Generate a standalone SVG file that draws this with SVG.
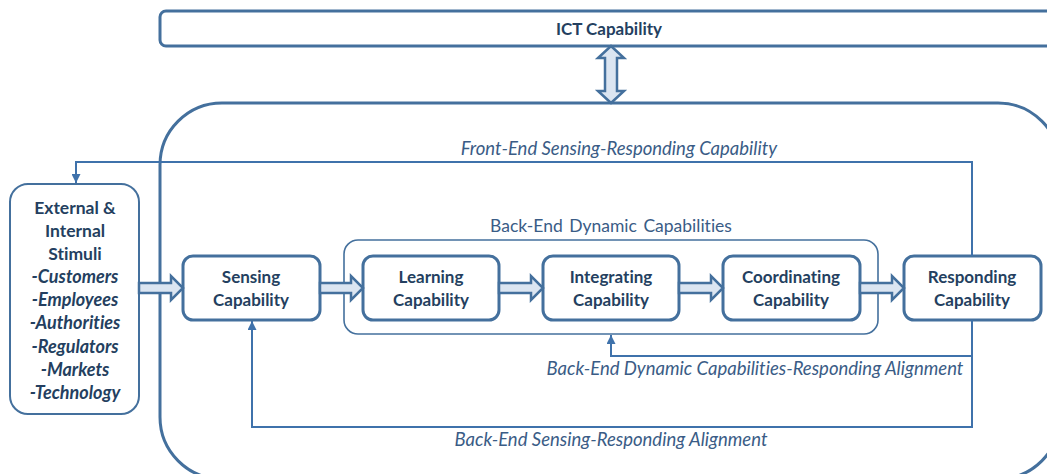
<svg xmlns="http://www.w3.org/2000/svg" width="1047" height="474" viewBox="0 0 1047 474">
<style>
text{font-variant-ligatures:none;font-feature-settings:"liga" 0}
.box{fill:#fff;stroke:#44709d;stroke-width:3}
.thin{fill:none;stroke:#44709d;stroke-width:1.6}
.line{fill:none;stroke:#3f72ab;stroke-width:2}
.fat{fill:#dbe5f1;stroke:#44709d;stroke-width:2.5;stroke-linejoin:miter}
.b{font-family:Lato,"Liberation Sans",sans-serif;font-weight:bold;font-size:17px;fill:#243f60;text-anchor:middle}
.s{font-size:17.5px}
.bi{font-family:Lato,"Liberation Sans",sans-serif;font-weight:bold;font-style:italic;font-size:18px;fill:#243f60;text-anchor:middle}
.lab{font-family:Lato,"Liberation Sans",sans-serif;font-style:italic;font-size:18.5px;fill:#3a5c86;text-anchor:middle}
.labn{font-family:Lato,"Liberation Sans",sans-serif;font-size:17.5px;fill:#3a5c86;text-anchor:middle;word-spacing:2px}
</style>
<defs>
<marker id="ah" viewBox="0 0 10 10" refX="10" refY="5" markerWidth="4.5" markerHeight="4.5" orient="auto" markerUnits="strokeWidth">
<path d="M0,0 L10,5 L0,10 z" fill="#3f72ab"/>
</marker>
</defs>
<g id="ict"><rect class="box" x="160" y="11" width="900" height="35" rx="6"/><text class="b" x="609" y="35">ICT Capability</text></g>
<g id="organization"><rect class="box" x="160" y="103" width="900" height="376" rx="62"/></g>
<g id="backend"><rect class="thin" x="344" y="240" width="534" height="94" rx="14"/><text class="labn" x="611" y="232">Back-End Dynamic Capabilities</text></g>
<g id="stimuli"><rect fill="#fff" stroke="#44709d" stroke-width="2" x="10" y="184" width="129" height="230" rx="18"/>
<text class="b s" x="75" y="214">External &amp;</text>
<text class="b s" x="75" y="237">Internal</text>
<text class="b s" x="75" y="260">Stimuli</text>
<text class="bi" x="75" y="283">-Customers</text>
<text class="bi" x="75" y="306">-Employees</text>
<text class="bi" x="75" y="329">-Authorities</text>
<text class="bi" x="75" y="353">-Regulators</text>
<text class="bi" x="75" y="376">-Markets</text>
<text class="bi" x="75" y="399">-Technology</text></g>
<g id="sensing"><rect class="box" x="183" y="256" width="137" height="64" rx="10"/><text class="b" x="251" y="283">Sensing</text><text class="b" x="251" y="306">Capability</text></g>
<g id="learning"><rect class="box" x="363" y="256" width="136" height="64" rx="10"/><text class="b" x="431" y="283">Learning</text><text class="b" x="431" y="306">Capability</text></g>
<g id="integrating"><rect class="box" x="543" y="256" width="136" height="64" rx="10"/><text class="b" x="611" y="283">Integrating</text><text class="b" x="611" y="306">Capability</text></g>
<g id="coordinating"><rect class="box" x="723" y="256" width="137" height="64" rx="10"/><text class="b" x="791" y="283">Coordinating</text><text class="b" x="791" y="306">Capability</text></g>
<g id="responding"><rect class="box" x="904" y="256" width="137" height="64" rx="10"/><text class="b" x="972" y="283">Responding</text><text class="b" x="972" y="306">Capability</text></g>
<g id="connectors">
<polygon class="fat" points="611,46 624,58 617,58 617,91 624,91 611,103 598,91 605,91 605,58 598,58"/>
<polygon class="fat" points="139,283 171,283 171,276 183,288 171,300 171,293 139,293"/>
<polygon class="fat" points="320,283 351,283 351,276 363,288 351,300 351,293 320,293"/>
<polygon class="fat" points="499,283 531,283 531,276 543,288 531,300 531,293 499,293"/>
<polygon class="fat" points="679,283 711,283 711,276 723,288 711,300 711,293 679,293"/>
<polygon class="fat" points="860,283 892,283 892,276 904,288 892,300 892,293 860,293"/>
<path class="line" d="M972,256 V162 H76 V183" marker-end="url(#ah)"/>
<path class="line" d="M972,320 V356 H611 V335" marker-end="url(#ah)"/>
<path class="line" d="M972,356 V427 H252 V321" marker-end="url(#ah)"/>
</g>
<text class="lab" x="619" y="155">Front-End Sensing-Responding Capability</text>
<text class="lab" x="755" y="375">Back-End Dynamic Capabilities-Responding Alignment</text>
<text class="lab" x="611" y="446">Back-End Sensing-Responding Alignment</text>
</svg>
